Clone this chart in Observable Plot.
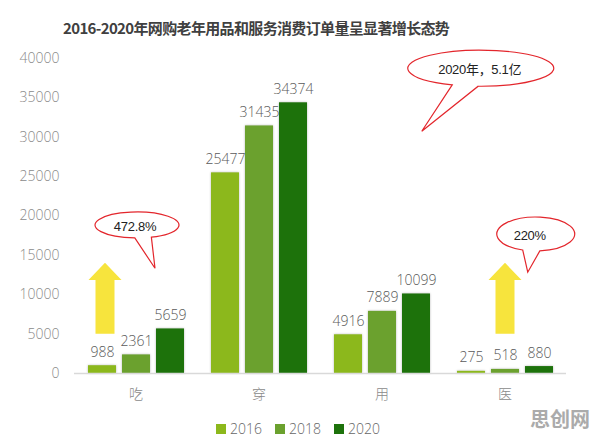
<!DOCTYPE html>
<html><head><meta charset="utf-8">
<script src="https://cdn.jsdelivr.net/npm/d3@7"></script>
<script src="https://cdn.jsdelivr.net/npm/@observablehq/plot@0.6"></script>
<style>
body{margin:0;background:#fff;}
#wrap{position:relative;width:596px;height:437px;overflow:hidden;font-family:"Noto Sans CJK SC","Noto Sans",sans-serif;background:#fff;}
#title{position:absolute;top:17px;left:63px;font-size:15px;font-weight:700;color:#404040;line-height:22px;white-space:nowrap;letter-spacing:-0.65px;}
#chart{position:absolute;top:46px;left:0;}
#legend{position:absolute;top:419px;left:0;width:596px;display:flex;justify-content:center;gap:13px;font-family:"Open Sans","Noto Sans",sans-serif;font-weight:300;font-size:14px;color:#666;line-height:20px;}
#legend .it{display:flex;align-items:center;gap:4px;}
#legend .sw{width:10px;height:10px;display:inline-block;}
#wm{position:absolute;left:530px;top:404px;font-size:20px;font-weight:700;color:#ababab;letter-spacing:0px;}
</style></head>
<body>
<div id="wrap">
  <div id="title">2016-2020年网购老年用品和服务消费订单量呈显著增长态势</div>
  <div id="chart"></div>
  <div id="legend"></div>
  <div id="wm">思创网</div>
</div>
<script>
const categories = ["吃", "穿", "用", "医"];
const years = ["2016", "2018", "2020"];
const values2016 = [988, 25477, 4916, 275];
const values2018 = [2361, 31435, 7889, 518];
const values2020 = [5659, 34374, 10099, 880];
const yTicks = [0, 5000, 10000, 15000, 20000, 25000, 30000, 35000, 40000];
const colors = ["#8cb81c", "#6ba12e", "#1d720b"];

// annotation content
const arrows = [
  {category: "吃", dx: 31, from: 5000, head: 11800, to: 14000},
  {category: "医", dx: 62, from: 5000, head: 11800, to: 14000}
];
const bubbles = [
  {category: "吃", text: "472.8%", dx: 63, cy: 18800, rx: 42, ry: 13, a1: 93, a2: 70, tdx: 81, ty: 13300, textDx: -2},
  {category: "医", text: "2020年，5.1亿", dx: 37.75, cy: 38700, rx: 73, ry: 18, a1: 113, a2: 92, tdx: -21.25, ty: 30700, textDx: -1},
  {category: "医", text: "220%", dx: 92.75, cy: 17650, rx: 39, ry: 17, a1: 109.5, a2: 84, tdx: 84.75, ty: 12800, textDx: -6}
];

const series = [values2016, values2018, values2020];
const data = categories.flatMap((c, i) => years.map((yr, j) => ({category: c, year: yr, value: series[j][i]})));

const plot = Plot.plot({
  width: 596, height: 370,
  marginLeft: 72, marginRight: 29, marginTop: 12, marginBottom: 43,
  style: {fontFamily: "'Open Sans','Noto Sans CJK SC',sans-serif", fontSize: "14px", fontWeight: 300, color: "#8a8a8a", background: "transparent"},
  fx: {domain: categories, padding: 0, axis: "bottom", label: null, tickSize: 0, tickPadding: 16},
  x: {domain: years, axis: null, paddingInner: 0.19, paddingOuter: 0.39},
  y: {domain: [0, 40000], ticks: yTicks, tickFormat: d3.format("d"), tickSize: 0, tickPadding: 15, label: null},
  color: {domain: years, range: colors},
  marks: [
    Plot.barY(data, {fx: "category", x: "year", y: "value", fill: "year"}),
    Plot.ruleY([0], {stroke: "#d9d9d9", strokeWidth: 1.5}),
    Plot.text(data, {fx: "category", x: "year", y: "value", text: d => String(d.value), lineAnchor: "bottom", dy: -9, fill: "#5a5a5a", fontSize: 14})
  ]
});
document.getElementById("chart").appendChild(plot);

const svg = d3.select(plot);
svg.selectAll("g[aria-label='bar'] rect").style("filter", "drop-shadow(0px 0px 1.2px rgba(0,0,0,0.28))");

const fxs = plot.scale("fx"), ys = plot.scale("y");
const g = svg.append("g");
arrows.forEach(a => {
  const cx = fxs.apply(a.category) + a.dx;
  const yb = ys.apply(a.from), yt = ys.apply(a.to), yh = ys.apply(a.head);
  const pts = [[cx - 9.5, yb], [cx - 9.5, yh], [cx - 16.5, yh], [cx, yt], [cx + 16.5, yh], [cx + 9.5, yh], [cx + 9.5, yb]];
  g.append("polygon").attr("points", pts.map(p => p.join(",")).join(" ")).attr("fill", "#f7e43d");
});
const rad = Math.PI / 180;
bubbles.forEach(b => {
  const x0 = fxs.apply(b.category);
  const cx = x0 + b.dx, cy = ys.apply(b.cy);
  const tx = x0 + b.tdx, ty = ys.apply(b.ty);
  const L = [cx + b.rx * Math.cos(b.a1 * rad), cy + b.ry * Math.sin(b.a1 * rad)];
  const R = [cx + b.rx * Math.cos(b.a2 * rad), cy + b.ry * Math.sin(b.a2 * rad)];
  g.append("path")
    .attr("d", `M${L[0]},${L[1]}L${tx},${ty}L${R[0]},${R[1]}A${b.rx},${b.ry} 0 1 0 ${L[0]},${L[1]}Z`)
    .attr("fill", "#fff").attr("stroke", "#e3262c").attr("stroke-width", 1.2);
  g.append("text").attr("x", cx + b.textDx).attr("y", cy + 1).attr("dy", "0.35em")
    .attr("text-anchor", "middle").attr("fill", "#222").attr("font-weight", 400)
    .attr("font-family", "'Liberation Sans','Noto Sans CJK SC',sans-serif").attr("font-size", 13)
    .style("letter-spacing", "-0.3px")
    .text(b.text);
});

const leg = document.getElementById("legend");
years.forEach((yr, j) => {
  const it = document.createElement("div"); it.className = "it";
  const sw = document.createElement("span"); sw.className = "sw"; sw.style.background = colors[j];
  const tx = document.createElement("span"); tx.textContent = yr;
  it.appendChild(sw); it.appendChild(tx); leg.appendChild(it);
});
</script>
</body></html>
